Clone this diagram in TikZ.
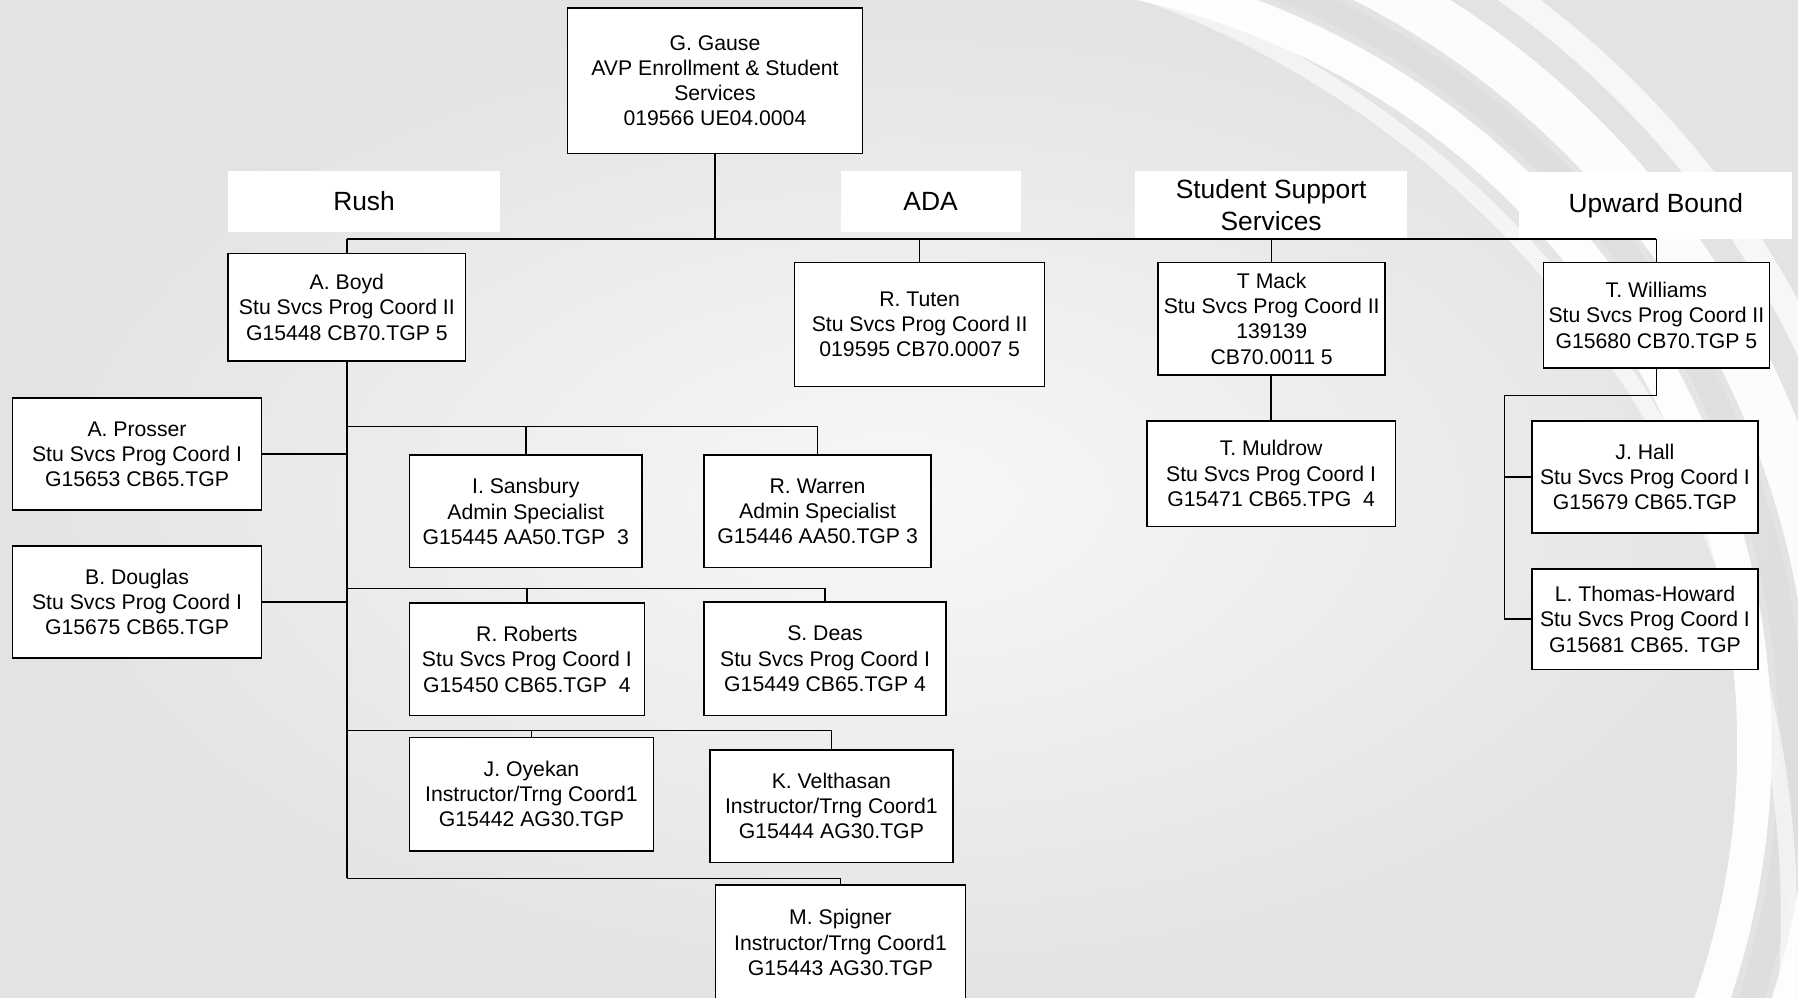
\documentclass[tikz,border=0pt]{standalone}
\usepackage{fontspec}
\setmainfont{Liberation Sans}
\begin{document}
\begin{tikzpicture}[x=1pt,y=-1pt,
  pbox/.style={draw=black, line width=1.4pt, fill=white, inner sep=0pt, align=center,
    font=\fontsize{18.5}{22}\selectfont},
  lbl/.style={fill=white, inner sep=0pt, align=center,
    font=\fontsize{23}{28}\selectfont},
  conn/.style={draw=black, line width=1.3pt},
  trunk/.style={draw=black, line width=1.9pt},
  swirl/.style={draw=white, line cap=butt}]
\useasboundingbox (0,0) rectangle (1568,870);
% background
\shade[inner color=white!97!black, outer color=white!89!black] (0,0) rectangle (1568,870);
\begin{scope}
\clip (950,0) rectangle (1568,870);
\draw[swirl, draw=black!14, line width=22pt, opacity=.5] (850,650) circle (712);
\draw[swirl, line width=30pt, opacity=.95] (850,650) circle (680);
\draw[swirl, line width=42pt, opacity=.9] (850,650) circle (750);
\draw[swirl, line width=22pt, opacity=.75] (850,650) circle (805);
\draw[swirl, line width=14pt, opacity=.6] (700,800) circle (860);
\end{scope}
% labels
\node[lbl, minimum width=237pt, minimum height=53pt] (rush) at (317.5,175.5) {Rush};
\node[lbl, minimum width=157pt, minimum height=53pt] (ada) at (811.5,175.5) {ADA};
\node[lbl, minimum width=237pt, minimum height=60pt] (sss) at (1108.5,179) {Student Support\\Services};
\node[lbl, minimum width=238pt, minimum height=58pt] (ub) at (1444,179) {Upward Bound};
% boxes
\node[pbox, minimum width=257pt, minimum height=127pt] (gause) at (623.5,70.5)
  {G. Gause\\AVP Enrollment \& Student\\Services\\019566 UE04.0004};
\node[pbox, minimum width=207pt, minimum height=94pt] (boyd) at (302.5,268)
  {A. Boyd\\Stu Svcs Prog Coord II\\G15448 CB70.TGP 5};
\node[pbox, minimum width=218pt, minimum height=108pt] (tuten) at (802,283)
  {R. Tuten\\Stu Svcs Prog Coord II\\019595 CB70.0007 5};
\node[pbox, minimum width=198pt, minimum height=98pt] (mack) at (1109,278)
  {T Mack\\Stu Svcs Prog Coord II\\139139\\CB70.0011 5};
\node[pbox, minimum width=217pt, minimum height=92pt] (muldrow) at (1108.5,413)
  {T. Muldrow\\Stu Svcs Prog Coord I\\G15471 CB65.TPG\ \ 4};
\node[pbox, minimum width=197pt, minimum height=92pt] (williams) at (1444.5,275)
  {T. Williams\\Stu Svcs Prog Coord II\\G15680 CB70.TGP 5};
\node[pbox, minimum width=197pt, minimum height=98pt] (hall) at (1434.5,416)
  {J. Hall\\Stu Svcs Prog Coord I\\G15679 CB65.TGP};
\node[pbox, minimum width=197pt, minimum height=88pt] (thomas) at (1434.5,540)
  {L. Thomas-Howard\\Stu Svcs Prog Coord I\\G15681 CB65. TGP};
\node[pbox, minimum width=217pt, minimum height=98pt] (prosser) at (119.5,396)
  {A. Prosser\\Stu Svcs Prog Coord I\\G15653 CB65.TGP};
\node[pbox, minimum width=217pt, minimum height=98pt] (douglas) at (119.5,525)
  {B. Douglas\\Stu Svcs Prog Coord I\\G15675 CB65.TGP};
\node[pbox, minimum width=203pt, minimum height=98pt] (sansbury) at (458.5,446)
  {I. Sansbury\\Admin Specialist\\G15445 AA50.TGP\ \ 3};
\node[pbox, minimum width=198pt, minimum height=98pt] (warren) at (713,446)
  {R. Warren\\Admin Specialist\\G15446 AA50.TGP 3};
\node[pbox, minimum width=205pt, minimum height=98pt] (roberts) at (459.5,575)
  {R. Roberts\\Stu Svcs Prog Coord I\\G15450 CB65.TGP\ \ 4};
\node[pbox, minimum width=211pt, minimum height=99pt] (deas) at (719.5,574.5)
  {S. Deas\\Stu Svcs Prog Coord I\\G15449 CB65.TGP 4};
\node[pbox, minimum width=213pt, minimum height=99pt] (oyekan) at (463.5,692.5)
  {J. Oyekan\\Instructor/Trng Coord1\\G15442 AG30.TGP};
\node[pbox, minimum width=212pt, minimum height=98pt] (velthasan) at (725,703)
  {K. Velthasan\\Instructor/Trng Coord1\\G15444 AG30.TGP};
\node[pbox, minimum width=218pt, minimum height=100pt] (spigner) at (733,822)
  {M. Spigner\\Instructor/Trng Coord1\\G15443 AG30.TGP};
% connector coordinates
\coordinate (busL) at (302.5,208.5);
\coordinate (busR) at (1444.5,208.5);
\coordinate (r1) at (302.5,372);
\coordinate (r2) at (302.5,513);
\coordinate (r3) at (302.5,637);
\coordinate (r4) at (302.5,766);
\coordinate (ubA) at (1444.5,345);
\coordinate (ubX) at (1312,345);
% top level
\draw[trunk] (gause.south) -- (gause.south |- busL);
\draw[trunk] (busL) -- (sss.south west |- busL);
\draw[conn] (sss.south west |- busL) -- (busR);
\draw[conn] (busL) -- (boyd.north);
\draw[conn] (tuten.north |- busL) -- (tuten.north);
\draw[conn] (mack.north |- busL) -- (mack.north);
\draw[conn] (busR) -- (williams.north);
% Rush
\draw[trunk] (boyd.south) -- (r4);
\draw[conn] (prosser.east) -- (prosser.east -| boyd.south);
\draw[conn] (douglas.east) -- (douglas.east -| boyd.south);
\draw[conn] (r1) -- (r1 -| warren.north) -- (warren.north);
\draw[conn] (r1 -| sansbury.north) -- (sansbury.north);
\draw[conn] (r2) -- (r2 -| deas.north) -- (deas.north);
\draw[conn] (r2 -| roberts.north) -- (roberts.north);
\draw[conn] (r3) -- (r3 -| velthasan.north) -- (velthasan.north);
\draw[conn] (r3 -| oyekan.north) -- (oyekan.north);
\draw[conn] (r4) -- (r4 -| spigner.north) -- (spigner.north);
% Student Support Services
\draw[conn] (mack.south) -- (mack.south -| muldrow.north) -- (muldrow.north);
% Upward Bound
\draw[conn] (williams.south) -- (ubA) -- (ubX) -- (ubX |- thomas.west) -- (thomas.west);
\draw[conn] (ubX |- hall.west) -- (hall.west);
\end{tikzpicture}
\end{document}
